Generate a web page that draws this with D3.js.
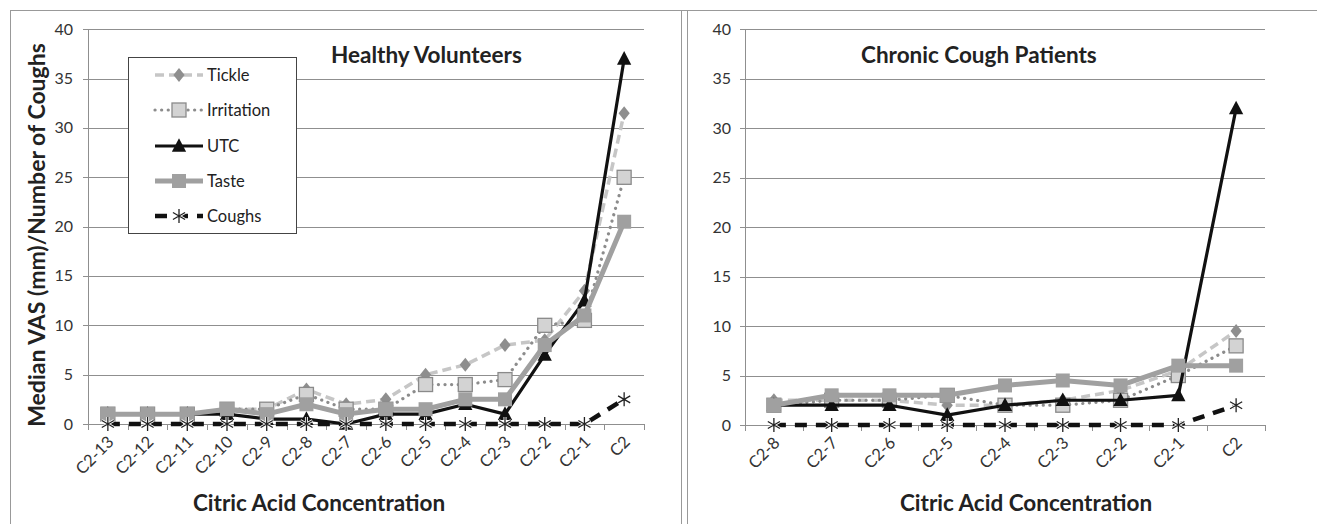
<!DOCTYPE html>
<html><head><meta charset="utf-8">
<script src="https://cdn.jsdelivr.net/npm/d3@7"></script>
<style>
html,body{margin:0;padding:0;background:#fff;}
svg{display:block;font-family:Lato,"Open Sans",sans-serif;}
</style></head>
<body>
<svg id="chart" width="1317" height="524"></svg>
<script>
const yTicks = [0,5,10,15,20,25,30,35,40];
const seriesNames = ["Tickle","Irritation","UTC","Taste","Coughs"];

const catsHV = ["C2-13","C2-12","C2-11","C2-10","C2-9","C2-8","C2-7","C2-6","C2-5","C2-4","C2-3","C2-2","C2-1","C2"];
const hvTickle     = [1,1,1,1.5,1.5,3.5,2,2.5,5,6,8,8.5,13.5,31.5];
const hvIrritation = [1,1,1,1.5,1.5,3,1.5,1.5,4,4,4.5,10,10.5,25];
const hvUTC        = [1,1,1,1,0.5,0.5,0,1,1,2,1,7,12.5,37];
const hvTaste      = [1,1,1,1.5,1,2,1,1.5,1.5,2.5,2.5,8,11,20.5];
const hvCoughs     = [0,0,0,0,0,0,0,0,0,0,0,0,0,2.5];

const catsCC = ["C2-8","C2-7","C2-6","C2-5","C2-4","C2-3","C2-2","C2-1","C2"];
const ccTickle     = [2.5,2.5,2.5,2,2,2.5,3.5,5.5,9.5];
const ccIrritation = [2,2.5,2.5,3,2,2,2.5,5,8];
const ccUTC        = [2,2,2,1,2,2.5,2.5,3,32];
const ccTaste      = [2,3,3,3,4,4.5,4,6,6];
const ccCoughs     = [0,0,0,0,0,0,0,0,2];

const svg = d3.select("#chart");

const styles = {
  Tickle:     {stroke:"#c6c6c6", width:3.5, dash:"9 5", cap:"butt", marker:"diamond", mfill:"#8e8e8e", mstroke:"none", msize:7},
  Irritation: {stroke:"#8c8c8c", width:3.2, dash:"0.1 6.5", cap:"round", marker:"square", mfill:"#d3d3d3", mstroke:"#8a8a8a", msize:14},
  UTC:        {stroke:"#111", width:3.2, dash:null, cap:"butt", marker:"triangle", mfill:"#111", mstroke:"none", msize:13},
  Taste:      {stroke:"#a0a0a0", width:5, dash:null, cap:"butt", marker:"square", mfill:"#a0a0a0", mstroke:"none", msize:14},
  Coughs:     {stroke:"#111", width:4.5, dash:"12 9", cap:"butt", marker:"star", mfill:"none", mstroke:"#222", msize:7}
};

function drawMarker(g, type, st, x, y) {
  if (type === "diamond") {
    const s = st.msize;
    g.append("path").attr("d", `M${x},${y-s}L${x+s*0.8},${y}L${x},${y+s}L${x-s*0.8},${y}Z`)
      .attr("fill", st.mfill);
  } else if (type === "square") {
    const s = st.msize;
    g.append("rect").attr("x", x-s/2).attr("y", y-s/2).attr("width", s).attr("height", s)
      .attr("fill", st.mfill).attr("stroke", st.mstroke).attr("stroke-width", st.mstroke==="none"?0:1.3);
  } else if (type === "triangle") {
    const s = st.msize;
    g.append("path").attr("d", `M${x},${y-s*0.6}L${x+s*0.55},${y+s*0.45}L${x-s*0.55},${y+s*0.45}Z`)
      .attr("fill", st.mfill);
  } else if (type === "star") {
    const r = st.msize;
    let d = "";
    [0,60,120].forEach(a => {
      const rad = (a+90)*Math.PI/180;
      d += `M${x+r*Math.cos(rad)},${y+r*Math.sin(rad)}L${x-r*Math.cos(rad)},${y-r*Math.sin(rad)}`;
    });
    [30,150].forEach(a => {
      const rad = a*Math.PI/180;
      d += `M${x+r*Math.cos(rad)},${y+r*Math.sin(rad)}L${x-r*Math.cos(rad)},${y-r*Math.sin(rad)}`;
    });
    g.append("path").attr("d", d).attr("stroke", "#fff").attr("stroke-width", 3);
    g.append("path").attr("d", d).attr("stroke", st.mstroke).attr("stroke-width", 1.3);
  }
}

function panel(cfg) {
  const g = svg.append("g");
  const x = d3.scaleBand().domain(cfg.cats).range([cfg.x0, cfg.x1]).padding(0);
  const y = d3.scaleLinear().domain([0,40]).range([cfg.y0, cfg.y1]);
  const cx = c => x(c) + x.bandwidth()/2;

  g.append("g").selectAll("line").data(yTicks).join("line")
    .attr("x1", cfg.x0-5).attr("x2", cfg.x1)
    .attr("y1", d => Math.round(y(d))+0.5).attr("y2", d => Math.round(y(d))+0.5)
    .attr("stroke", "#8f8f8f").attr("stroke-width", 1);
  g.append("line").attr("x1", cfg.x0+0.5).attr("x2", cfg.x0+0.5)
    .attr("y1", y(40)).attr("y2", y(0)).attr("stroke", "#8f8f8f");
  g.append("g").selectAll("text").data(yTicks).join("text")
    .attr("x", cfg.x0-cfg.labGap).attr("y", d => y(d)+5.5)
    .attr("text-anchor", "end").attr("font-size", cfg.tickFont).attr("fill", "#333")
    .text(d => d);
  const bounds = cfg.cats.map(c => x(c)).concat([cfg.x1]);
  g.append("g").selectAll("line").data(bounds).join("line")
    .attr("x1", d => Math.round(d)+0.5).attr("x2", d => Math.round(d)+0.5)
    .attr("y1", y(0)).attr("y2", y(0)+6).attr("stroke", "#8f8f8f");
  g.append("g").selectAll("text").data(cfg.cats).join("text")
    .attr("transform", d => `translate(${cx(d)+7},${y(0)+19}) rotate(-45)`)
    .attr("text-anchor", "end").attr("font-size", 16.5).attr("fill", "#333")
    .text(d => d);

  cfg.series.forEach(([name, vals]) => {
    const st = styles[name];
    const line = d3.line().x((d,i) => cx(cfg.cats[i])).y(d => y(d));
    g.append("path").datum(vals).attr("d", line)
      .attr("fill", "none").attr("stroke", st.stroke).attr("stroke-width", st.width)
      .attr("stroke-dasharray", st.dash).attr("stroke-linecap", st.cap).attr("stroke-linejoin", "round");
    const mg = g.append("g");
    vals.forEach((v,i) => drawMarker(mg, st.marker, st, cx(cfg.cats[i]), y(v)));
  });

  g.append("text").attr("x", cfg.titleX).attr("y", 63)
    .attr("font-size", 22.5).attr("font-weight", "bold").attr("fill", "#222")
    .text(cfg.title);
  g.append("text").attr("x", cfg.xTitleX).attr("y", 511).attr("text-anchor", "middle")
    .attr("font-size", 22.5).attr("font-weight", "bold").attr("fill", "#222")
    .text("Citric Acid Concentration");
}

// frame
svg.append("line").attr("x1", 10).attr("x2", 1317).attr("y1", 10.5).attr("y2", 10.5).attr("stroke", "#999");
svg.append("line").attr("x1", 10.5).attr("x2", 10.5).attr("y1", 10).attr("y2", 524).attr("stroke", "#999");
svg.append("line").attr("x1", 681.5).attr("x2", 681.5).attr("y1", 10).attr("y2", 524).attr("stroke", "#999");
svg.append("line").attr("x1", 687.5).attr("x2", 687.5).attr("y1", 10).attr("y2", 524).attr("stroke", "#999");

panel({
  cats: catsHV, x0: 88, x1: 644, y0: 424, y1: 29.3, tickFont: 16, labGap: 15,
  series: [["Tickle",hvTickle],["Irritation",hvIrritation],["UTC",hvUTC],["Taste",hvTaste],["Coughs",hvCoughs]],
  title: "Healthy Volunteers", titleX: 331,
  xTitleX: 319
});

panel({
  cats: catsCC, x0: 745, x1: 1265, y0: 425, y1: 29.3, tickFont: 16, labGap: 14,
  series: [["Tickle",ccTickle],["Irritation",ccIrritation],["UTC",ccUTC],["Taste",ccTaste],["Coughs",ccCoughs]],
  title: "Chronic Cough Patients", titleX: 861,
  xTitleX: 1026
});

svg.append("text").attr("transform", "translate(45,235) rotate(-90)")
  .attr("text-anchor", "middle").attr("font-size", 23).attr("font-weight", "bold").attr("fill", "#222")
  .text("Median VAS (mm)/Number of Coughs");

const lg = svg.append("g");
lg.append("rect").attr("x", 128.5).attr("y", 57.5).attr("width", 168).attr("height", 176)
  .attr("fill", "#fff").attr("stroke", "#444").attr("stroke-width", 1);
const legY = [75, 110, 146, 181, 216];
seriesNames.forEach((name, i) => {
  const st = styles[name];
  const yy = legY[i];
  lg.append("line").attr("x1", 155).attr("x2", 203).attr("y1", yy).attr("y2", yy)
    .attr("stroke", st.stroke).attr("stroke-width", st.width)
    .attr("stroke-dasharray", st.dash).attr("stroke-linecap", st.cap);
  drawMarker(lg, st.marker, st, 179, yy);
  lg.append("text").attr("x", 207).attr("y", yy+6).attr("font-size", 16.5).attr("fill", "#222").text(name);
});
</script>
</body></html>
